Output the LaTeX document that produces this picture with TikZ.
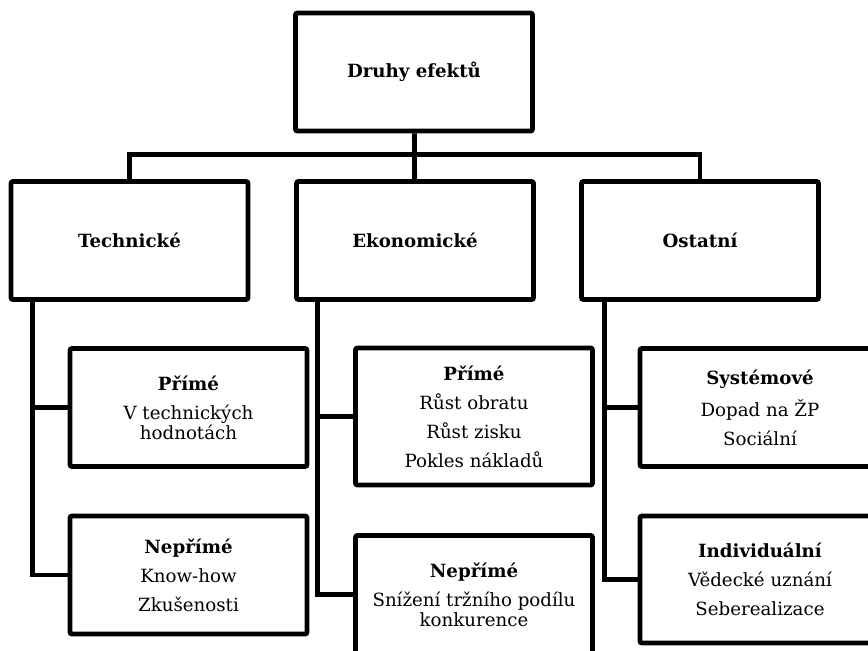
\documentclass[tikz,border=0pt]{standalone}
\usepackage{fontspec}
\setmainfont{DejaVu Serif}
\usetikzlibrary{positioning}

\begin{document}
\begin{tikzpicture}[
    x=0.5pt, y=-0.5pt,
    box/.style={rectangle, draw, line width=2.4pt, rounded corners=1pt, align=center, inner sep=0pt,
      minimum width=118.5pt, minimum height=59pt, font=\fontsize{9.1}{10}\selectfont},
    link/.style={line width=2.4pt}
  ]
    \useasboundingbox (0,0) rectangle (868,650);
    \node[box] (root) at (414,72) {\textbf{Druhy efektů}};
    \node[box] (tech) at (129.5,240.5) {\textbf{Technické}};
    \node[box] (eko) at (415,240.5) {\textbf{Ekonomické}};
    \node[box] (ost) at (700,240.5) {\textbf{Ostatní}};
    \node[box] (techA) at (188.5,407.5) {\textbf{Přímé}\\[4.5pt]V technických\\hodnotách};
    \node[box] (techB) at (188.5,575) {\textbf{Nepřímé}\\[4.5pt]Know-how\\[4.5pt]Zkušenosti};
    \node[box, minimum height=68.5pt] (ekoA) at (474,416.5) {\textbf{Přímé}\\[4.5pt]Růst obratu\\[4.5pt]Růst zisku\\[4.5pt]Pokles nákladů};
    \node[box] (ekoB) at (474,594.5) {\textbf{Nepřímé}\\[4.5pt]Snížení tržního podílu\\konkurence};
    \node[box, minimum width=120pt] (ostA) at (760,407.5) {\textbf{Systémové}\\[4.5pt]Dopad na ŽP\\[4.5pt]Sociální};
    \node[box, minimum width=120pt, minimum height=63.5pt] (ostB) at (760,579.5) {\textbf{Individuální}\\[4.5pt]Vědecké uznání\\[4.5pt]Seberealizace};
    \draw[link] (root) -- (eko);
    \draw[link] (tech.north) -- ++(0,-25) -| (ost.north);
    \draw[link] ([xshift=12pt]tech.south west) |- (techA.west);
    \draw[link] ([xshift=12pt]tech.south west) |- (techB.west);
    \draw[link] ([xshift=11.5pt]eko.south west) |- (ekoA.west);
    \draw[link] ([xshift=11.5pt]eko.south west) |- (ekoB.west);
    \draw[link] ([xshift=12.5pt]ost.south west) |- (ostA.west);
    \draw[link] ([xshift=12.5pt]ost.south west) |- (ostB.west);
  \end{tikzpicture}
\end{document}
